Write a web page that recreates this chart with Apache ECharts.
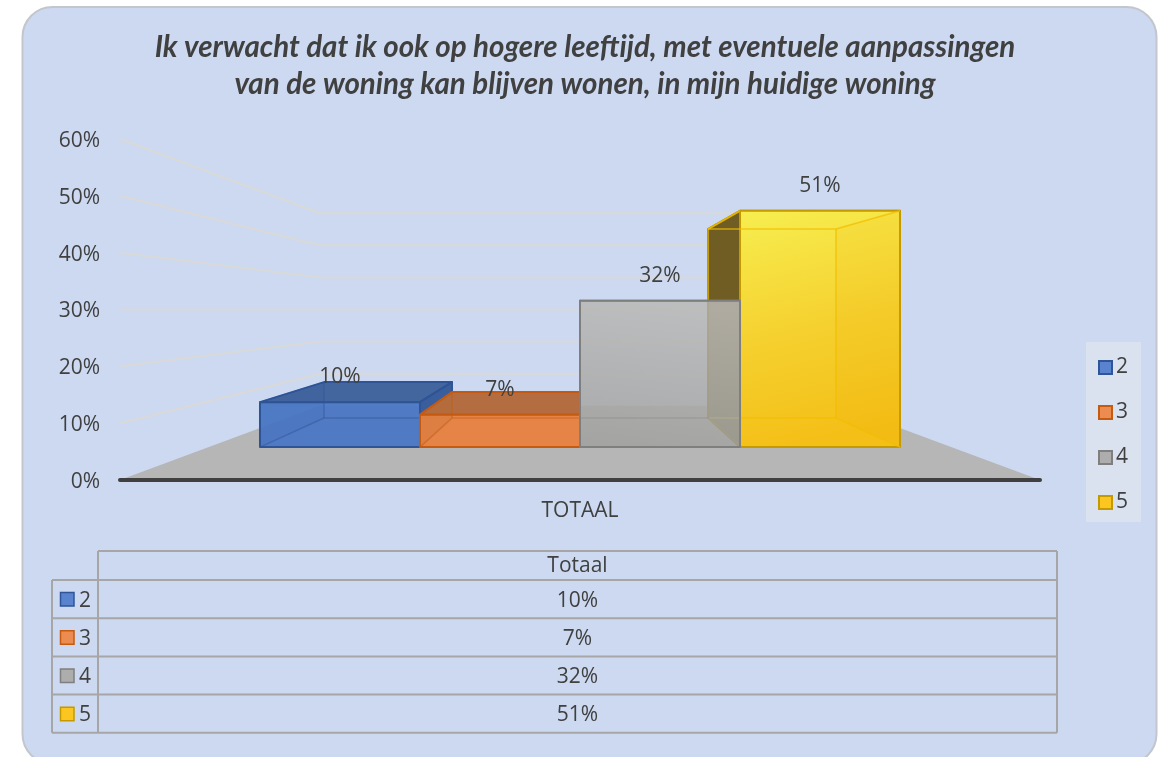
<!DOCTYPE html>
<html>
<head>
<meta charset="utf-8">
<style>
  html, body { margin: 0; padding: 0; background: #fff; }
  #chart { width: 1160px; height: 757px; }
</style>
</head>
<body>
<div id="chart"></div>
<script src="https://cdn.jsdelivr.net/npm/echarts@6/dist/echarts.min.js"></script>
<script>
const titleLines = [
  'Ik verwacht dat ik ook op hogere leeftijd, met eventuele aanpassingen',
  'van de woning kan blijven wonen, in mijn huidige woning'
];
const categories = ['TOTAAL'];
const seriesNames = ['2', '3', '4', '5'];
const values2 = [0.097];
const values3 = [0.07];
const values4 = [0.316];
const values5 = [0.51];
const valueTicks = [0.1, 0.2, 0.3, 0.4, 0.5, 0.6];
const tableHeader = 'Totaal';

const FONT = '"Open Sans", sans-serif';
const TEXT = '#404040';
const TEXT_SIZE = 21;
const pct = (v) => Math.round(v * 100) + '%';
const allValues = [values2, values3, values4, values5];

// perspective of the fake 3d box, all relative to the flat grid
const WALL_VANISH = 0.3;
const BAR_VANISH = 0.3132;
const WALL_K = 0.565;
const BAR_FRONT_K = 0.815;
const BAR_BACK_K = 0.652;
const BAR_WIDTH = 0.2134;

const looks = [
  { front: 'rgba(72,117,196,0.93)', edge: '#2f5597', top: '#44669f', side: '#3a5e9c', inner: 'rgba(47,85,151,0.45)', far: 'rgba(47,85,151,0.05)', key: '#5a83cf', z: 3 },
  { front: 'rgba(232,130,64,0.95)', edge: '#c55a11', top: '#b46d40', side: '#a6633a', inner: 'rgba(197,90,17,0.45)', far: 'rgba(197,90,17,0.05)', key: '#ec8c50', z: 4 },
  {
    front: new echarts.graphic.LinearGradient(0.2, 0, 0.1, 1, [
      { offset: 0, color: 'rgba(185,184,181,0.85)' },
      { offset: 1, color: 'rgba(160,160,158,0.85)' }
    ]),
    edge: '#7f7f7f', top: '#8a8a8a', side: '#8a8a8a', inner: 'rgba(127,127,127,0.3)', far: 'rgba(127,127,127,0)', key: '#adadad', z: 6
  },
  {
    front: new echarts.graphic.LinearGradient(0, 0, 0.35, 1, [
      { offset: 0, color: '#f7ee50' },
      { offset: 0.55, color: '#f5d02e' },
      { offset: 1, color: '#f4bf17' }
    ]),
    edge: '#c49a00', top: '#f5dc3a', side: '#6f5d24', inner: 'rgba(240,190,0,0.75)', far: 'rgba(240,170,0,0.1)', key: '#fac61f', z: 5
  }
];

function project(api, worldX, value, k, vanish) {
  const base = api.coord([0, value]);
  const vy = api.coord([0, vanish])[1];
  const band = api.size([1, 0])[0];
  return [base[0] + worldX * band * k, vy + (base[1] - vy) * k];
}

function renderBar(index) {
  const look = looks[index];
  return function (params, api) {
    const value = api.value(1);
    const x0 = (index - 2) * BAR_WIDTH;
    const x1 = x0 + BAR_WIDTH;
    const p = (x, v, k) => project(api, x, v, k, BAR_VANISH);
    const fl = p(x0, 0, BAR_FRONT_K), fr = p(x1, 0, BAR_FRONT_K);
    const tl = p(x0, value, BAR_FRONT_K), tr = p(x1, value, BAR_FRONT_K);
    const bfl = p(x0, 0, BAR_BACK_K), bfr = p(x1, 0, BAR_BACK_K);
    const btl = p(x0, value, BAR_BACK_K), btr = p(x1, value, BAR_BACK_K);
    const outerFace = index < 2 ? [fr, bfr, btr, tr] : [fl, bfl, btl, tl];
    const farFace = index < 2 ? [fl, bfl, btl, tl] : [fr, bfr, btr, tr];
    const face = (points, fill, stroke, width) => ({
      type: 'polygon',
      shape: { points },
      style: { fill, stroke, lineWidth: width, lineJoin: 'round' }
    });
    const line = (a, b) => ({
      type: 'line',
      shape: { x1: a[0], y1: a[1], x2: b[0], y2: b[1] },
      style: { stroke: look.inner, lineWidth: 1.5 }
    });
    return {
      type: 'group',
      children: [
        face([tl, tr, btr, btl], look.top, look.edge, 2),
        face(outerFace, look.side, look.edge, 2),
        face([tl, tr, fr, fl], look.front, look.edge, 2),
        face(farFace, look.far, null, 0),
        line(btl, btr),
        line(bfl, bfr),
        line(index < 2 ? btl : btr, index < 2 ? bfl : bfr),
        line(tl, btl),
        line(tr, btr),
        line(fl, bfl),
        line(fr, bfr),
        {
          type: 'text',
          style: {
            x: (tl[0] + tr[0]) / 2,
            y: tl[1] - 25,
            text: pct(value),
            align: 'center',
            verticalAlign: 'middle',
            fill: TEXT,
            font: TEXT_SIZE + 'px ' + FONT
          },
          z2: 50
        }
      ]
    };
  };
}

function renderFloor(params, api) {
  const p = (x, k) => project(api, x, 0, k, WALL_VANISH);
  return {
    type: 'polygon',
    shape: { points: [p(-0.5, 1), p(0.5, 1), p(0.5, WALL_K), p(-0.5, WALL_K)] },
    style: { fill: '#b6b6b6' }
  };
}

function renderWallLine(params, api) {
  const v = api.value(0);
  const p = (x, k) => project(api, x, v, k, WALL_VANISH);
  return {
    type: 'polyline',
    shape: { points: [p(-0.5, 1), p(-0.5, WALL_K), p(0.5, WALL_K)] },
    style: { fill: null, stroke: '#d9dad8', lineWidth: 2 }
  };
}

// data table under the plot, there is no such thing in echarts so it is drawn by hand
const TABLE_LEFT = 52, TABLE_SPLIT = 98, TABLE_RIGHT = 1057;
const TABLE_TOP = 551, ROW_TOP = 580, ROW_H = 38.2;
const tableLine = (x1, y1, x2, y2) => ({
  type: 'line',
  silent: true,
  shape: { x1, y1, x2, y2 },
  style: { stroke: '#a6a6a6', lineWidth: 2 }
});
const tableText = (text, x, y, align) => ({
  type: 'text',
  silent: true,
  style: { text, x, y: y + 1.5, align, verticalAlign: 'middle', fill: TEXT, font: TEXT_SIZE + 'px ' + FONT }
});
const tableBottom = ROW_TOP + ROW_H * seriesNames.length;
const tableItems = [
  tableLine(TABLE_SPLIT, TABLE_TOP, TABLE_RIGHT, TABLE_TOP),
  tableLine(TABLE_SPLIT, TABLE_TOP, TABLE_SPLIT, tableBottom),
  tableLine(TABLE_RIGHT, TABLE_TOP, TABLE_RIGHT, tableBottom),
  tableLine(TABLE_LEFT, ROW_TOP, TABLE_LEFT, tableBottom),
  tableLine(TABLE_LEFT, ROW_TOP, TABLE_RIGHT, ROW_TOP),
  tableText(tableHeader, (TABLE_SPLIT + TABLE_RIGHT) / 2, 565, 'center')
];
seriesNames.forEach((name, i) => {
  const rowBottom = ROW_TOP + ROW_H * (i + 1);
  const mid = rowBottom - ROW_H / 2;
  tableItems.push(
    tableLine(TABLE_LEFT, rowBottom, TABLE_RIGHT, rowBottom),
    {
      type: 'rect',
      silent: true,
      shape: { x: 60.5, y: mid - 6.5, width: 13.5, height: 13.5 },
      style: { fill: looks[i].key, stroke: looks[i].edge, lineWidth: 1.5 }
    },
    tableText(name, 79, mid, 'left'),
    tableText(pct(allValues[i][0]), (TABLE_SPLIT + TABLE_RIGHT) / 2, mid, 'center')
  );
});

const panel = {
  type: 'rect',
  silent: true,
  z: -10,
  shape: { x: 22.5, y: 7, width: 1134, height: 757, r: 30 },
  style: { fill: '#ccd9f0', stroke: '#c3c6cb', lineWidth: 2 }
};

const barSeries = seriesNames.map((name, i) => ({
  name,
  type: 'custom',
  coordinateSystem: 'cartesian2d',
  z: looks[i].z,
  silent: true,
  itemStyle: { color: looks[i].key, borderColor: looks[i].edge, borderWidth: 1.5 },
  encode: { x: 0, y: 1 },
  data: allValues[i].map((v, c) => [c, v]),
  renderItem: renderBar(i)
}));

const chart = echarts.init(document.getElementById('chart'));
chart.setOption({
  animation: false,
  backgroundColor: '#ffffff',
  textStyle: { fontFamily: FONT },
  title: {
    text: titleLines.join('\n'),
    left: 580,
    top: 24,
    textAlign: 'center',
    textStyle: {
      fontFamily: 'Lato, sans-serif',
      fontSize: 29.5,
      fontStyle: 'italic',
      fontWeight: 'bold',
      color: TEXT,
      lineHeight: 37
    }
  },
  legend: {
    orient: 'vertical',
    left: 1086,
    top: 342,
    padding: [15, 13, 9, 12],
    itemWidth: 13,
    itemHeight: 13,
    itemGap: 24,
    backgroundColor: '#dae2f0',
    data: seriesNames,
    selectedMode: false,
    icon: 'rect',
    textStyle: { color: TEXT, fontSize: TEXT_SIZE, fontFamily: FONT, padding: [0, 0, 0, -1] }
  },
  grid: { left: 120, right: 120, top: 139, height: 341 },
  xAxis: {
    type: 'category',
    data: categories,
    z: 10,
    axisTick: { show: false },
    axisLine: { lineStyle: { color: '#404040', width: 4, cap: 'round' } },
    axisLabel: { color: TEXT, fontSize: TEXT_SIZE, fontFamily: FONT, margin: 21 }
  },
  yAxis: {
    type: 'value',
    min: 0,
    max: 0.6,
    interval: 0.1,
    axisLine: { show: false },
    axisTick: { show: false },
    splitLine: { show: false },
    axisLabel: {
      margin: 20,
      formatter: (v) => '{tick|' + pct(v) + '}',
      rich: { tick: { color: TEXT, fontSize: TEXT_SIZE, fontFamily: FONT, padding: [4, 0, 0, 0] } }
    }
  },
  graphic: { elements: [panel].concat(tableItems) },
  series: [
    {
      type: 'custom',
      silent: true,
      z: 1,
      encode: { x: 0, y: 1 },
      data: [[0, 0]],
      renderItem: renderFloor
    },
    {
      type: 'custom',
      silent: true,
      z: 1,
      encode: { y: 0 },
      data: valueTicks.map((v) => [v]),
      renderItem: renderWallLine
    }
  ].concat(barSeries)
});
</script>
</body>
</html>
